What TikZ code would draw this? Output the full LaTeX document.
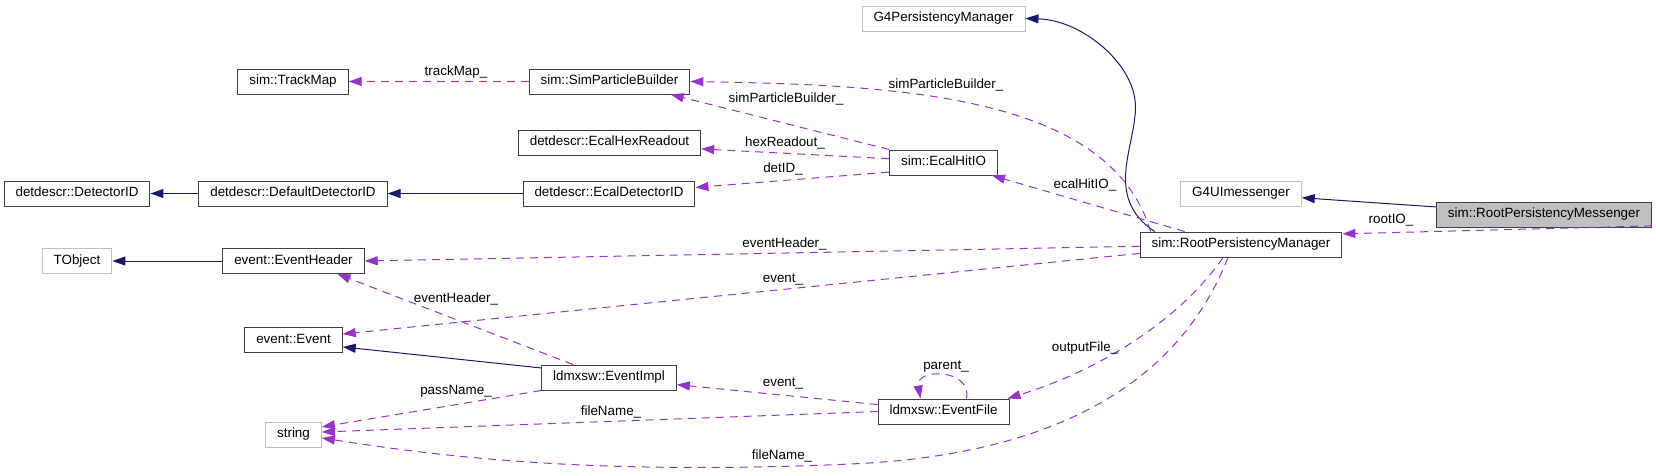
\documentclass[tikz,border=0pt]{standalone}
\usepackage{fontspec}
\setmainfont{Liberation Sans}
\usetikzlibrary{arrows.meta,positioning}

\definecolor{inhblue}{RGB}{25,25,112}
\definecolor{usepurple}{RGB}{153,50,204}
\definecolor{extgray}{RGB}{191,191,191}

\begin{document}
\begin{tikzpicture}[
            x = 1pt, y = -1pt, % pixel grid, y going down
            > = {Triangle[length=13pt,width=9pt]}, % arrow head style
            font = \fontsize{13.4}{15}\selectfont,
            line width = 1pt
        ]

        \tikzstyle{cls}=[
            draw = black!75,
            line width = 1pt,
            fill = white,
            minimum height = 25pt,
            inner xsep = 11.5pt,
            inner ysep = 0pt,
            text height = 9.5pt,
            text depth = 2.8pt
        ]
        \tikzstyle{ext}=[cls, draw = extgray]
        \tikzstyle{cur}=[cls, fill = extgray]
        \tikzstyle{inh}=[draw = inhblue, ->]
        \tikzstyle{usedby}=[draw = usepurple, dash pattern = on 8pt off 6pt, ->]
        \tikzstyle{lbl}=[inner sep = 0pt, text = black]

        \useasboundingbox (0,0) rectangle (1656,475);

        % classes
        \node[ext] (g4pm) at (943.5,18.5) {G4PersistencyManager};
        \node[cls] (tmap) at (293,81.5) {sim::TrackMap};
        \node[cls] (spb) at (609.5,81.5) {sim::SimParticleBuilder};
        \node[cls] (ehex) at (609.5,142.5) {detdescr::EcalHexReadout};
        \node[cls] (ehio) at (943.5,162.5) {sim::EcalHitIO};
        \node[cls] (did) at (77,193.5) {detdescr::DetectorID};
        \node[cls] (ddid) at (293,193.5) {detdescr::DefaultDetectorID};
        \node[cls] (edid) at (609,193.5) {detdescr::EcalDetectorID};
        \node[ext] (g4ui) at (1241,193.5) {G4UImessenger};
        \node[cur] (rmsg) at (1544,214.5) {sim::RootPersistencyMessenger};
        \node[cls] (rpm) at (1241,244.5) {sim::RootPersistencyManager};
        \node[ext] (tobj) at (77,261) {TObject};
        \node[cls] (ehdr) at (293.5,261) {event::EventHeader};
        \node[cls] (event) at (293.5,340) {event::Event};
        \node[cls] (eimpl) at (609,377.5) {ldmxsw::EventImpl};
        \node[cls] (ef) at (943.5,411.5) {ldmxsw::EventFile};
        \node[ext] (str) at (293.5,434.5) {string};

        % inheritance
        \draw[inh] (ddid) -- (did);
        \draw[inh] (edid) -- (ddid);
        \draw[inh] (ehdr) -- (tobj);
        \draw[inh] (eimpl.172) -- (event.-8);
        \draw[inh] (rmsg.176) -- (g4ui.-4);
        \draw[inh] ([xshift=15pt]rpm.north west) .. controls (1100,195) and (1140,140) .. (1135,100)
            .. controls (1130,60) and (1080,20) .. (g4pm.east);

        % members
        \draw[usedby] (rmsg.-6) -- (rpm.6) node[lbl] at (1391,220) {rootIO\_};
        \draw[usedby] (spb) -- (tmap) node[lbl] at (456,72) {trackMap\_};
        \draw[usedby] (ehio.north west) -- (spb.-12) node[lbl] at (786,99) {simParticleBuilder\_};
        \draw[usedby] (ehio.176) -- (ehex.-4) node[lbl] at (785,143) {hexReadout\_};
        \draw[usedby] (ehio.190) -- (edid.4) node[lbl] at (783,169) {detID\_};
        \draw[usedby] ([xshift=11pt]rpm.north west) .. controls (1110,95) and (900,85) .. (spb.east)
            node[lbl] at (946,85) {simParticleBuilder\_};
        \draw[usedby] ([xshift=45pt]rpm.north west) -- (ehio.-15) node[lbl] at (1085,185) {ecalHitIO\_};
        \draw[usedby] (rpm.181) -- (ehdr.east) node[lbl] at (784.5,244) {eventHeader\_};
        \draw[usedby] (rpm.185) -- (event.7) node[lbl] at (783,279) {event\_};
        \draw[usedby] ([xshift=-36pt]eimpl.north) -- ([xshift=44pt]ehdr.south) node[lbl] at (456,299) {eventHeader\_};
        \draw[usedby] (eimpl.south west) -- (str.15) node[lbl] at (456,391) {passName\_};
        \draw[usedby] (ef.west) -- (str.5) node[lbl] at (611,412) {fileName\_};
        \draw[usedby] ([xshift=-13pt]rpm.south) .. controls (1180,380) and (1060,455) .. (850,464)
            .. controls (600,475) and (450,458) .. (str.-7) node[lbl] at (782,456) {fileName\_};
        \draw[usedby] ([xshift=-18pt]rpm.south) .. controls (1180,320) and (1100,370) .. ([xshift=-2pt]ef.north east)
            node[lbl] at (1085,348) {outputFile\_};
        \draw[usedby] ([xshift=23pt]ef.north) .. controls (972,368) and (915,368) .. ([xshift=-23pt]ef.north)
            node[lbl] at (946,367) {parent\_};
        \draw[usedby] (ef.174) -- (eimpl.-6) node[lbl] at (783,383) {event\_};

    \end{tikzpicture}
\end{document}
